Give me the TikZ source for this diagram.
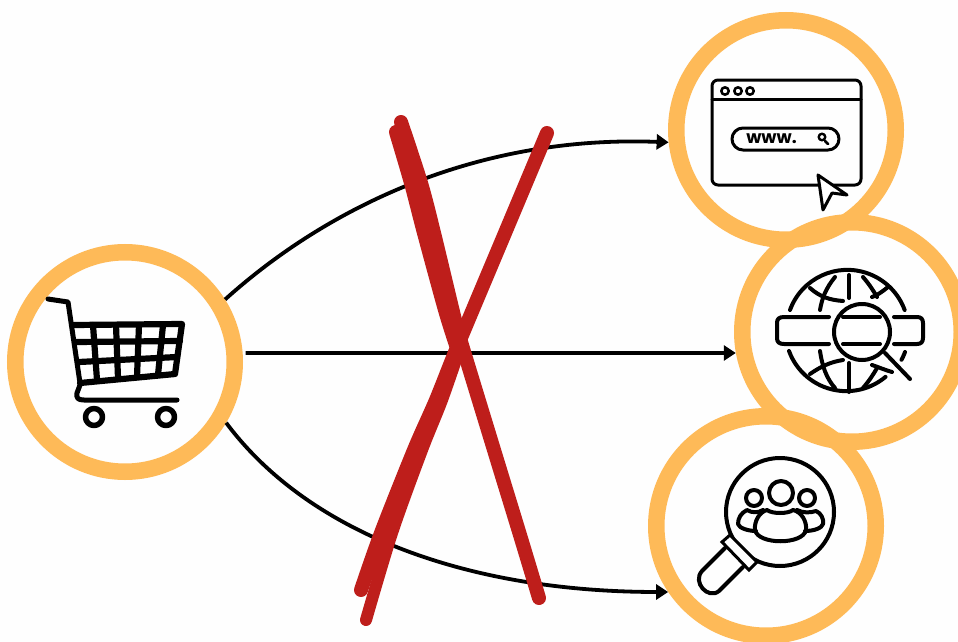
\documentclass[tikz,border=0pt]{standalone}
\usepackage{fontspec}
\newfontfamily\wwwfont{Poppins}[BoldFont={Poppins Bold}]
\usetikzlibrary{arrows.meta}
\definecolor{ringc}{HTML}{FEBA58}
\definecolor{crossc}{HTML}{BE1E1B}
\definecolor{bgc}{HTML}{FEFEFE}
\tikzset{
  ring/.style={circle,draw=ringc,line width=16.5pt,minimum size=219.5pt,inner sep=0pt},
  conn/.style={draw=black,line width=3.8pt,-{Triangle[length=12pt,width=15pt]}},
  slash/.style={draw=crossc,line cap=round,line join=round,line width=14pt},
  icon/.style={draw=black,line width=4pt,line cap=round,line join=round},
  carticon/.style={draw=black,line width=6.2pt,line cap=round,line join=round},
}
\begin{document}
\begin{tikzpicture}[x=1pt,y=-1pt]
\fill[bgc] (0,0) rectangle (958,642);
\useasboundingbox (0,0) rectangle (958,642);
\node[ring] (web) at (786,130) {};
\node[ring] (net) at (852,332) {};
\node[ring] (search) at (766,526) {};
\node[ring] (cart) at (125,362) {};
% connectors
\draw[conn] (cart.32) .. controls (330,205) and (480,135) .. (web.186);
\draw[conn] ([xshift=3pt,yshift=0.8pt]cart.4) -- ([yshift=-0.5pt]net.190);
\draw[conn] (cart.-31) .. controls (310,535) and (470,592) .. (search.214);
% cross
\draw[slash] plot[smooth] coordinates {(401,122) (421,183) (434,233) (455,320) (462,345) (494,450) (520,535) (539,598)};
\draw[slash] plot[smooth] coordinates {(396,132) (411,183) (424,233) (445,310) (456,345)};
\draw[slash] plot[smooth] coordinates {(547,133) (505,233) (458,345) (436,400) (414,450) (381,533) (361,590)};
\draw[slash,line width=12pt] plot[smooth] coordinates {(461,345) (442,400) (422,450) (392,533) (366,620)};
% cart icon
\draw[carticon,line width=5pt] (48,299) -- (68,302) -- (80,383);
\draw[carticon] (73,325) -- (182,324) -- (175,374) -- (80,383);
\draw[carticon] (76,342) -- (180,341);
\draw[carticon] (79,362) -- (177,357);
\draw[carticon] (93,325) -- (97,380);
\draw[carticon] (116,325) -- (118,378);
\draw[carticon] (139,325) -- (137,377);
\draw[carticon] (163,325) -- (158,375);
\draw[carticon,line width=5pt] (80,385) -- (77,393) .. controls (76,398) and (78,400) .. (84,400) -- (177,400);
\draw[icon,line width=5.5pt] (94,417) circle (8.5);
\draw[icon,line width=5.5pt] (166,417) circle (8.5);
% browser icon
\draw[icon,line width=3pt] (718,80) -- (855,80) arc (-90:0:6) -- (861,179) arc (0:90:6) -- (718,185) arc (90:180:6) -- (712,86) arc (180:270:6) -- cycle;
\draw[icon,line width=3pt] (712,99) -- (861,99);
\draw[icon,line width=2.5pt] (725,91) circle (3.7);
\draw[icon,line width=2.5pt] (738,91) circle (3.7);
\draw[icon,line width=2.5pt] (750,91) circle (3.7);
\draw[icon,line width=3pt] (743,128) -- (828,128) arc (-90:90:11) -- (743,150) arc (90:270:11) -- cycle;
\node[inner sep=0pt] (wwwlabel) at (771.5,139) {\wwwfont\bfseries\fontsize{17.5}{17.5}\selectfont www.};
\draw[icon,line width=2.4pt] (822,137) circle (3.3);
\draw[icon,line width=2.8pt] (825,141) -- (828,144);
\draw[icon,fill=white,line width=3pt] (818,175) -- (847,195) -- (832,193) -- (823,210) -- cycle;
% globe icon
\draw[icon] (790,310) arc (200:340:61);
\draw[icon] (789,351) arc (160:50:61);
\draw[icon] (905,352) arc (20:28:61);
\draw[icon] (849,275) -- (849,298);
\draw[icon] (849,363) -- (849,392);
\draw[icon] (835,277) .. controls (826,288) and (822,298) .. (820,310);
\draw[icon] (820,351) .. controls (822,365) and (826,378) .. (835,388);
\draw[icon] (863,277) .. controls (869,284) and (873,290) .. (877,297);
\draw[icon] (863,388) .. controls (869,381) and (873,375) .. (877,368);
\draw[icon] (810,288) .. controls (820,297) and (830,300) .. (843,301);
\draw[icon] (872,297) .. controls (878,295) and (883,291) .. (888,287);
\draw[icon] (810,374) .. controls (820,367) and (830,362) .. (843,360);
\draw[icon] (872,365) .. controls (878,367) and (885,370) .. (892,372);
\draw[icon] (829,317) -- (784,317) .. controls (779,317) and (777,319) .. (777,323) -- (777,338) .. controls (777,342) and (779,344) .. (784,344) -- (829,344);
\draw[icon] (894,317) -- (917,317) .. controls (921,317) and (923,319) .. (923,323) -- (923,338) .. controls (923,342) and (921,344) .. (917,344) -- (894,344);
\fill[white] (862,332) circle (28);
\draw[icon] (843,317) -- (880,317);
\draw[icon] (843,344) -- (880,344);
\draw[icon] (862,332) circle (28);
\draw[icon] (885,353) -- (910,379);
% magnifier with people icon
\draw[icon] (780,512) circle (54);
\draw[icon,line width=3pt,line join=miter,fill=white] (722,542) -- (730,535) -- (757,562) -- (749,570) -- cycle;
\draw[icon] (725,548) -- (702,571) .. controls (692,582) and (708,600) .. (719,591) -- (743,567);
\draw[icon] (781,493) circle (12);
\draw[icon] (754,498) circle (8);
\draw[icon] (807,498) circle (8);
\draw[icon] (767,510) .. controls (772,514) and (788,514) .. (793,510) .. controls (802,512) and (807,522) .. (806,530) .. controls (803,545) and (758,545) .. (755,530) .. controls (754,522) and (759,512) .. (767,510) -- cycle;
\draw[icon] (763,510) .. controls (758,513) and (752,513) .. (747,510) .. controls (741,513) and (738,518) .. (738,524) .. controls (739,528) and (748,531) .. (756,531);
\draw[icon] (797,510) .. controls (803,513) and (810,513) .. (816,511) .. controls (821,513) and (824,519) .. (823,524) .. controls (822,528) and (814,531) .. (805,531);
\end{tikzpicture}
\end{document}
